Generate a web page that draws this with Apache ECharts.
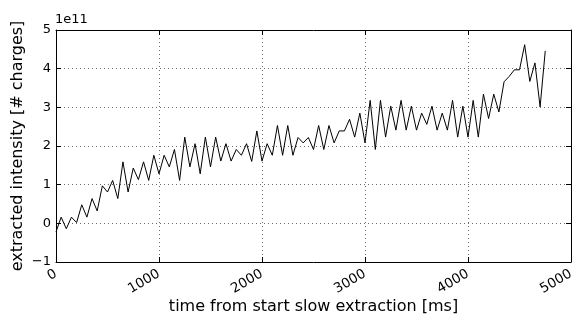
<!DOCTYPE html>
<html>
<head>
<meta charset="utf-8">
<script src="https://cdn.jsdelivr.net/npm/echarts@6/dist/echarts.min.js"></script>
<style>
  html, body { margin: 0; padding: 0; background: #fff; }
  #chart { width: 572px; height: 315px; }
</style>
</head>
<body>
<div id="chart"></div>
<script>
// time [ms], 50 ms steps
var timeMs = [0, 50, 100, 150, 200, 250, 300, 350, 400, 450,
  500, 550, 600, 650, 700, 750, 800, 850, 900, 950,
  1000, 1050, 1100, 1150, 1200, 1250, 1300, 1350, 1400, 1450,
  1500, 1550, 1600, 1650, 1700, 1750, 1800, 1850, 1900, 1950,
  2000, 2050, 2100, 2150, 2200, 2250, 2300, 2350, 2400, 2450,
  2500, 2550, 2600, 2650, 2700, 2750, 2800, 2850, 2900, 2950,
  3000, 3050, 3100, 3150, 3200, 3250, 3300, 3350, 3400, 3450,
  3500, 3550, 3600, 3650, 3700, 3750, 3800, 3850, 3900, 3950,
  4000, 4050, 4100, 4150, 4200, 4250, 4300, 4350, 4400, 4450,
  4500, 4550, 4600, 4650, 4700, 4750];

// extracted intensity in units of 1e11 charges
var intensity = [-0.22, 0.16, -0.14, 0.16, 0.02, 0.48, 0.16, 0.64, 0.32, 0.97,
  0.81, 1.11, 0.64, 1.59, 0.81, 1.43, 1.13, 1.59, 1.11, 1.76,
  1.28, 1.76, 1.46, 1.91, 1.11, 2.23, 1.46, 2.06, 1.28, 2.23,
  1.46, 2.23, 1.61, 2.06, 1.61, 1.91, 1.76, 2.06, 1.60, 2.39,
  1.61, 2.06, 1.76, 2.53, 1.76, 2.53, 1.76, 2.22, 2.08, 2.22,
  1.91, 2.53, 1.91, 2.53, 2.08, 2.39, 2.39, 2.69, 2.23, 2.85,
  2.08, 3.18, 1.91, 3.18, 2.23, 3.03, 2.41, 3.18, 2.41, 3.03,
  2.41, 2.85, 2.56, 3.03, 2.41, 2.85, 2.41, 3.18, 2.23, 3.03,
  2.23, 3.18, 2.23, 3.34, 2.71, 3.34, 2.88, 3.66, 3.80, 3.97,
  3.97, 4.62, 3.67, 4.15, 3.01, 4.46];

var xTicks = [0, 1000, 2000, 3000, 4000, 5000];
var yTicks = [-1, 0, 1, 2, 3, 4, 5];

var chart = echarts.init(document.getElementById('chart'));

var points = [];
for (var i = 0; i < timeMs.length; i++) points.push([timeMs[i], intensity[i]]);

var font = 'DejaVu Sans';
var gridLine = { show: true, lineStyle: { color: '#444', type: [1, 3], width: 0.8 } };
var frame = { show: true, onZero: false, lineStyle: { color: '#000', width: 1 } };
var tick = { show: true, inside: true, length: 5, lineStyle: { color: '#000' } };

var option = {
  animation: false,
  grid: { left: 56, right: 1, top: 30, bottom: 53, containLabel: false, outerBoundsMode: 'none' },
  graphic: [{
    type: 'text', left: 55, top: 13,
    style: { text: '1e11', font: '13px "DejaVu Sans"', fill: '#000' }
  }],
  xAxis: [{
    type: 'value', min: xTicks[0], max: xTicks[xTicks.length - 1], interval: 1000,
    axisLine: frame, axisTick: tick, splitLine: gridLine,
    axisLabel: {
      rotate: 30, margin: 11, fontFamily: font, fontSize: 13.5, color: '#000',
      formatter: function (v) { return String(v); }
    },
    name: 'time from start slow extraction [ms]', nameLocation: 'middle', nameGap: 37,
    nameMoveOverlap: false,
    nameTextStyle: { fontFamily: font, fontSize: 16, color: '#000' }
  }, {
    type: 'value', position: 'top', min: 0, max: 5000, interval: 1000,
    axisLine: frame, axisTick: tick, splitLine: { show: false },
    axisLabel: { show: false }
  }],
  yAxis: [{
    type: 'value', min: yTicks[0], max: yTicks[yTicks.length - 1], interval: 1,
    axisLine: frame, axisTick: tick, splitLine: gridLine,
    axisLabel: {
      margin: 5, fontFamily: font, fontSize: 13, color: '#000',
      formatter: function (v) { return v < 0 ? '\u2212' + Math.abs(v) : String(v); }
    },
    name: 'extracted intensity [# charges]', nameLocation: 'middle', nameGap: 30,
    nameMoveOverlap: false,
    nameTextStyle: { fontFamily: font, fontSize: 16, color: '#000' }
  }, {
    type: 'value', position: 'right', min: -1, max: 5, interval: 1,
    axisLine: frame, axisTick: tick, splitLine: { show: false },
    axisLabel: { show: false }
  }],
  series: [{
    type: 'line', data: points, xAxisIndex: 0, yAxisIndex: 0,
    showSymbol: false, lineStyle: { color: '#000', width: 1 }
  }]
};

chart.setOption(option);
</script>
</body>
</html>
